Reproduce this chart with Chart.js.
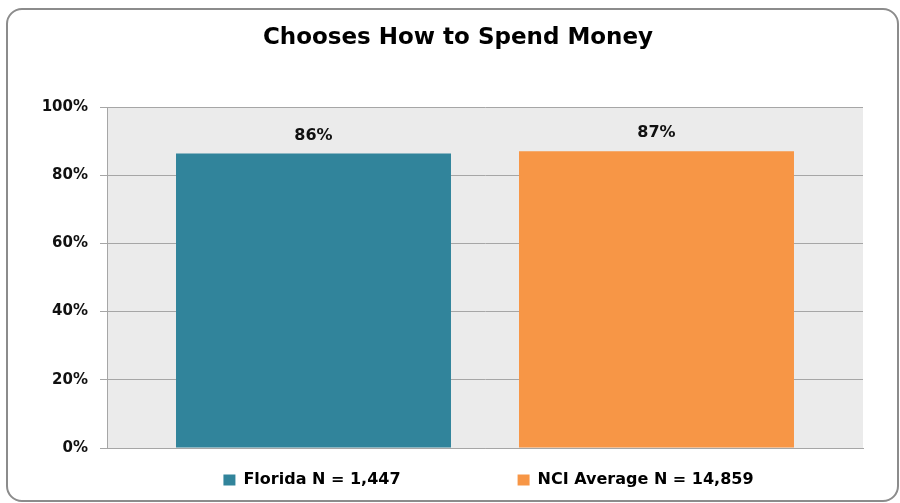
<!DOCTYPE html>
<html>
<head>
<meta charset="utf-8">
<script src="https://cdn.jsdelivr.net/npm/chart.js@4"></script>
<style>
  html, body { margin: 0; padding: 0; background: #fff; }
  #wrap { position: relative; width: 900px; height: 503px; overflow: hidden; }
  #frame {
    position: absolute; left: 6px; top: 8px; width: 889px; height: 490px;
    border: 2px solid #8c8c8c; border-radius: 16px;
  }
  canvas { position: absolute; left: 0; top: 0; }
</style>
</head>
<body>
<div id="wrap">
  <div id="frame"></div>
  <canvas id="chart" width="900" height="503"></canvas>
</div>
<script>
// chart data
const chartTitle = 'Chooses How to Spend Money';
const seriesNames = ['Florida N = 1,447', 'NCI Average N = 14,859'];
const seriesValues = [86.4, 87];
const seriesColors = ['#31849b', '#f79646'];
const yTicks = [0, 20, 40, 60, 80, 100];

const FONT = '"DejaVu Sans", Verdana, sans-serif';

// grey plot background
const plotBg = {
    id: 'plotBg',
    beforeDraw(chart) {
        const a = chart.chartArea;
        const ctx = chart.ctx;
        ctx.save();
        ctx.fillStyle = '#ebebeb';
        ctx.fillRect(a.left, a.top, a.right - a.left, a.bottom - a.top);
        ctx.restore();
    }
};

// move title and legend to where the original has them
const placeBoxes = {
    id: 'placeBoxes',
    afterLayout(chart) {
        const t = chart.titleBlock;
        t.left = 16; t.right = 900; t.width = 884;
        const lg = chart.legend;
        lg.left = 77; lg.right = 900; lg.width = 823;
        lg.top = 355; lg.bottom = 503; lg.height = 148;
    }
};

// value labels above the bars
const valueLabels = {
    id: 'valueLabels',
    afterDatasetsDraw(chart) {
        const ctx = chart.ctx;
        ctx.save();
        ctx.font = 'bold 16px ' + FONT;
        ctx.fillStyle = '#111';
        ctx.textAlign = 'center';
        ctx.textBaseline = 'middle';
        chart.data.datasets.forEach((ds, i) => {
            chart.getDatasetMeta(i).data.forEach((bar, j) => {
                ctx.fillText(Math.round(ds.data[j]) + '%', bar.x, bar.y - 18);
            });
        });
        ctx.restore();
    }
};

new Chart(document.getElementById('chart'), {
    type: 'bar',
    data: {
        labels: [''],
        datasets: seriesNames.map((name, i) => ({
            label: name,
            data: [seriesValues[i]],
            backgroundColor: seriesColors[i],
            borderWidth: 0,
            categoryPercentage: 0.9074,
            barPercentage: 0.8017
        }))
    },
    options: {
        responsive: false,
        animation: false,
        layout: { padding: { left: 0, right: 37, top: 0, bottom: 0 } },
        plugins: {
            title: {
                display: true,
                text: chartTitle,
                color: '#000',
                font: { family: FONT, size: 23, weight: 'bold' },
                padding: { top: 24, bottom: 55.4 }
            },
            legend: {
                position: 'bottom',
                maxHeight: 55,
                labels: {
                    color: '#000',
                    font: { family: FONT, size: 16, weight: 'bold' },
                    boxWidth: 12,
                    boxHeight: 11,
                    padding: 117
                }
            },
            tooltip: { enabled: false }
        },
        scales: {
            x: {
                grid: { display: false, drawTicks: false },
                border: { display: true, color: '#a6a6a6', width: 1 },
                ticks: { display: false }
            },
            y: {
                min: 0,
                max: 100,
                afterFit(scale) { scale.width = 107; },
                afterBuildTicks(scale) { scale.ticks = yTicks.map(v => ({ value: v })); },
                grid: { color: '#a6a6a6', tickLength: 7 },
                border: { display: true, color: '#a6a6a6' },
                ticks: {
                    color: '#111',
                    padding: 12,
                    font: { family: FONT, size: 15, weight: 'bold' },
                    callback: v => v + '%'
                }
            }
        }
    },
    plugins: [plotBg, placeBoxes, valueLabels]
});
</script>
</body>
</html>
